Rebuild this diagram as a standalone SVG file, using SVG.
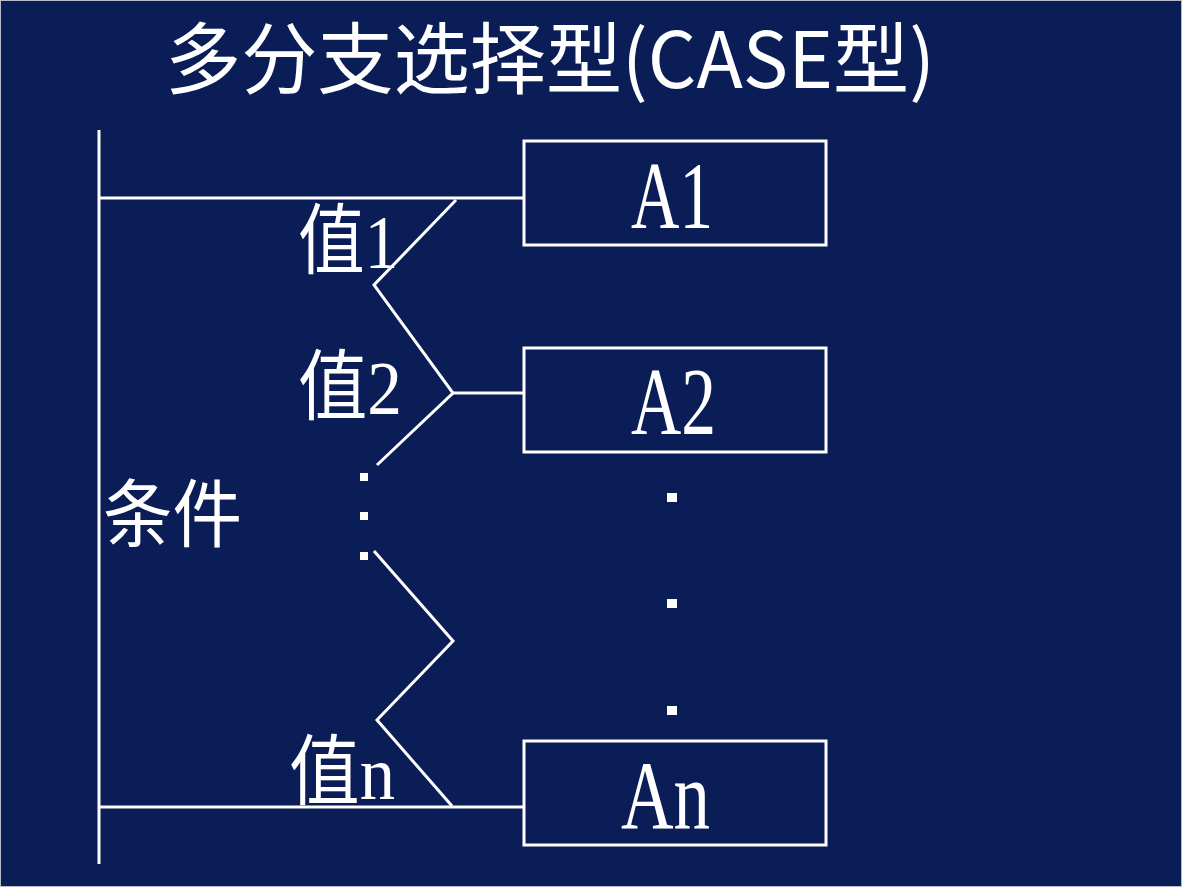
<svg xmlns="http://www.w3.org/2000/svg" width="1182" height="887" viewBox="0 0 1182 887">
<style>
.ln{stroke:#ffffff;stroke-width:3;fill:none}
.box{stroke:#ffffff;stroke-width:3;fill:none}
.t{fill:#ffffff;font-family:"Liberation Serif","Noto Sans CJK SC",serif}
.title{fill:#ffffff;font-family:"Noto Sans CJK SC","Liberation Sans",sans-serif;font-size:78px}
.dot{fill:#ffffff}
</style>
<rect x="0" y="0" width="1182" height="887" fill="#0a1d57"/>
<rect x="0.5" y="0.5" width="1181" height="886" fill="none" stroke="#b8bcc8" stroke-width="1"/>
<text id="title" class="title" x="165" y="88" textLength="770" lengthAdjust="spacingAndGlyphs">多分支选择型(CASE型)</text>
<g id="connectors">
<line class="ln" x1="99" y1="130" x2="99" y2="864"/>
<line class="ln" x1="100" y1="198" x2="523" y2="198"/>
<line class="ln" x1="100" y1="807" x2="523" y2="807"/>
<polyline class="ln" points="456,200 374,285 453,393 377,465"/>
<line class="ln" x1="453" y1="393" x2="523" y2="393"/>
<polyline class="ln" points="374,551 453,641 377,720 452,806"/>
</g>
<g id="cond"><text class="t" x="103" y="541" font-size="74" textLength="139" lengthAdjust="spacingAndGlyphs">条件</text></g>
<g id="v1"><text class="t" x="298" y="268" font-size="77" textLength="100" lengthAdjust="spacingAndGlyphs">值1</text></g>
<g id="v2"><text class="t" x="298" y="414" font-size="77" textLength="104" lengthAdjust="spacingAndGlyphs">值2</text></g>
<g id="vn"><text class="t" x="289" y="799" font-size="77" textLength="106" lengthAdjust="spacingAndGlyphs">值n</text></g>
<g id="ldots">
<rect class="dot" x="360" y="473" width="8" height="8"/>
<rect class="dot" x="360" y="512" width="8" height="8"/>
<rect class="dot" x="360" y="552" width="8" height="8"/>
</g>
<g id="rdots">
<rect class="dot" x="667" y="493" width="10" height="9"/>
<rect class="dot" x="667" y="599" width="10" height="9"/>
<rect class="dot" x="667" y="706" width="10" height="9"/>
</g>
<g id="A1">
<rect class="box" x="524" y="141" width="302" height="104"/>
<text class="t" x="631" y="228" font-size="95" textLength="82" lengthAdjust="spacingAndGlyphs">A1</text>
</g>
<g id="A2">
<rect class="box" x="524" y="348" width="302" height="104"/>
<text class="t" x="631" y="434" font-size="95" textLength="85" lengthAdjust="spacingAndGlyphs">A2</text>
</g>
<g id="An">
<rect class="box" x="524" y="741" width="302" height="104"/>
<text class="t" x="621" y="828" font-size="97" textLength="89" lengthAdjust="spacingAndGlyphs">An</text>
</g>
</svg>
